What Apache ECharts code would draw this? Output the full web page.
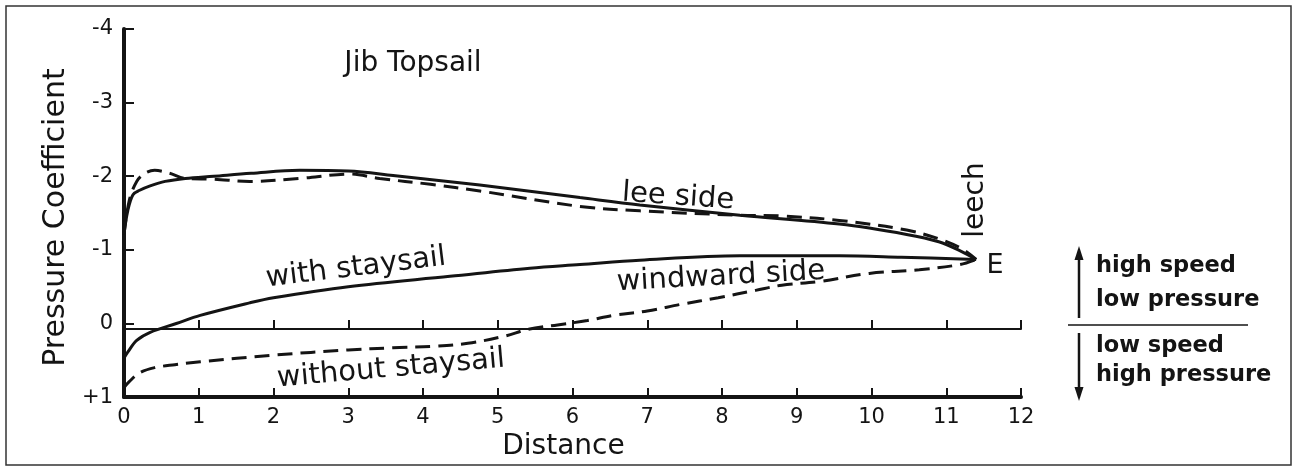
<!DOCTYPE html>
<html>
<head>
<meta charset="utf-8">
<title>Jib Topsail</title>
<script src="https://cdn.jsdelivr.net/npm/echarts@6/dist/echarts.min.js"></script>
<style>
  html, body { margin: 0; padding: 0; background: #fff; }
  #chart { width: 1294px; height: 466px; }
</style>
</head>
<body>
<div id="chart"></div>
<script>
// distance along the sail (x) and pressure coefficient (y) for each curve
const leeWithX = [0, 0.05, 0.12, 0.21, 0.35, 0.55, 0.82, 1.2, 1.7, 2.35, 3.0, 3.6, 4.76, 6.1, 6.9, 8.24, 9.57, 10.47, 10.9, 11.2, 11.4];
const leeWithY = [-1.21, -1.53, -1.75, -1.81, -1.87, -1.93, -1.97, -2.0, -2.04, -2.08, -2.07, -2.01, -1.88, -1.71, -1.61, -1.47, -1.35, -1.21, -1.11, -0.98, -0.87];

const leeWithoutX = [0, 0.07, 0.17, 0.28, 0.41, 0.61, 0.82, 1.2, 1.68, 2.35, 3.02, 3.42, 4.1, 4.76, 6.1, 6.9, 8.24, 8.8, 9.57, 10.47, 10.9, 11.2, 11.4];
const leeWithoutY = [-1.21, -1.67, -1.93, -2.04, -2.08, -2.04, -1.97, -1.96, -1.93, -1.97, -2.03, -1.97, -1.89, -1.80, -1.59, -1.53, -1.47, -1.46, -1.40, -1.27, -1.15, -1.02, -0.87];

const windWithX = [0, 0.05, 0.17, 0.35, 0.7, 1.02, 1.68, 2.0, 3.0, 4.36, 5.43, 6.1, 6.9, 8.24, 9.57, 10.4, 11.4];
const windWithY = [0.47, 0.39, 0.23, 0.12, 0, -0.11, -0.28, -0.35, -0.5, -0.64, -0.75, -0.8, -0.86, -0.92, -0.92, -0.9, -0.87];

const windWithoutX = [0, 0.07, 0.21, 0.41, 0.68, 1.02, 2.0, 3.0, 3.6, 4.15, 4.6, 5.1, 5.4, 5.8, 6.2, 6.55, 7.0, 7.45, 7.95, 8.45, 8.8, 9.3, 9.97, 10.64, 11.18, 11.4];
const windWithoutY = [0.87, 0.79, 0.67, 0.6, 0.56, 0.52, 0.43, 0.36, 0.33, 0.31, 0.27, 0.17, 0.08, 0.02, -0.04, -0.11, -0.17, -0.26, -0.35, -0.45, -0.52, -0.57, -0.68, -0.73, -0.8, -0.87];

const xTicks = ['0', '1', '2', '3', '4', '5', '6', '7', '8', '9', '10', '11', '12'];
const yTicks = {'-4': '-4', '-3': '-3', '-2': '-2', '-1': '-1', '0': '0', '1': '+1'};

const ink = '#141414';
const font = 'DejaVu Sans';

function zip(xs, ys) {
    return xs.map((x, i) => [x, ys[i]]);
}

function curve(name, xs, ys, dashed) {
    return {
        name: name,
        type: 'line',
        xAxisIndex: 0,
        yAxisIndex: 0,
        smooth: 0.35,
        symbol: 'none',
        lineStyle: {
            color: ink,
            width: 3,
            type: dashed ? [15, 8] : 'solid'
        },
        data: zip(xs, ys)
    };
}

function label(text, x, y, size, rot) {
    return {
        type: 'text',
        x: x,
        y: y,
        rotation: rot * Math.PI / 180,
        style: {
            text: text,
            fill: ink,
            font: size + 'px "' + font + '"',
            align: 'center',
            verticalAlign: 'middle'
        }
    };
}

function sideText(text, y) {
    return {
        type: 'text',
        x: 1096,
        y: y,
        style: {
            text: text,
            fill: ink,
            font: 'bold 22.5px "' + font + '"',
            align: 'left',
            verticalAlign: 'middle'
        }
    };
}

const myChart = echarts.init(document.getElementById('chart'), null, {renderer: 'canvas'});

const gridBox = {left: 124, right: 273, top: 29, bottom: 62};

myChart.setOption({
    animation: false,
    grid: [
        Object.assign({}, gridBox),
        Object.assign({}, gridBox)
    ],
    xAxis: [
        {
            type: 'value',
            gridIndex: 0,
            min: 0,
            max: 12,
            interval: 1,
            name: 'Distance',
            nameLocation: 'middle',
            nameGap: 31,
            nameTextStyle: {fontFamily: font, fontSize: 28, color: ink, padding: [0, 18, 0, 0]},
            axisLine: {onZero: false, lineStyle: {color: ink, width: 4}},
            axisTick: {inside: true, length: 9, lineStyle: {color: ink, width: 2}},
            axisLabel: {
                margin: 10,
                fontFamily: font,
                fontSize: 21,
                color: ink,
                formatter: v => xTicks[v]
            },
            splitLine: {show: false}
        },
        {
            // the zero line with its own upward ticks
            type: 'value',
            gridIndex: 1,
            min: 0,
            max: 12,
            interval: 1,
            axisLine: {onZero: true, lineStyle: {color: ink, width: 2}},
            axisTick: {inside: true, length: 9, lineStyle: {color: ink, width: 2}},
            axisLabel: {show: false},
            splitLine: {show: false}
        }
    ],
    yAxis: [
        {
            type: 'value',
            gridIndex: 0,
            inverse: true,
            min: -4,
            max: 1,
            interval: 1,
            name: 'Pressure Coefficient',
            nameLocation: 'middle',
            nameGap: 40,
            nameTextStyle: {fontFamily: font, fontSize: 30, color: ink, padding: [0, 9, 0, 0]},
            axisLine: {show: true, lineStyle: {color: ink, width: 4}},
            axisTick: {show: true, inside: true, length: 10, lineStyle: {color: ink, width: 2}},
            axisLabel: {
                margin: 11,
                fontFamily: font,
                fontSize: 21,
                color: ink,
                formatter: v => yTicks[String(v)]
            },
            splitLine: {show: false}
        },
        {
            type: 'value',
            gridIndex: 1,
            inverse: true,
            min: -4,
            max: 1,
            interval: 1,
            show: false
        }
    ],
    series: [
        curve('lee side, with staysail', leeWithX, leeWithY, false),
        curve('lee side, without staysail', leeWithoutX, leeWithoutY, true),
        curve('windward side, with staysail', windWithX, windWithY, false),
        curve('windward side, without staysail', windWithoutX, windWithoutY, true)
    ],
    graphic: [
        {
            type: 'rect',
            shape: {x: 6, y: 6, width: 1285, height: 459},
            style: {fill: 'none', stroke: '#333', lineWidth: 1.5},
            silent: true
        },
        label('Jib Topsail', 413, 64, 28, 0),
        label('lee side', 678, 197, 29, -4),
        label('with staysail', 356, 268, 29, 7),
        label('windward side', 721, 277, 29, 3.2),
        label('without staysail', 391, 369, 29, 5),
        label('leech', 976, 200, 28, 90),
        label('E', 995, 266, 27, 0),
        // right hand key
        {type: 'line', shape: {x1: 1079, y1: 318, x2: 1079, y2: 256}, style: {stroke: ink, lineWidth: 2.5}},
        {type: 'polygon', shape: {points: [[1079, 246], [1074.5, 260], [1083.5, 260]]}, style: {fill: ink}},
        {type: 'line', shape: {x1: 1079, y1: 333, x2: 1079, y2: 392}, style: {stroke: ink, lineWidth: 2.5}},
        {type: 'polygon', shape: {points: [[1079, 401], [1074.5, 387], [1083.5, 387]]}, style: {fill: ink}},
        {type: 'line', shape: {x1: 1068, y1: 325, x2: 1248, y2: 325}, style: {stroke: ink, lineWidth: 1.5}},
        sideText('high speed', 266),
        sideText('low pressure', 300),
        sideText('low speed', 346),
        sideText('high pressure', 375)
    ]
});
</script>
</body>
</html>
